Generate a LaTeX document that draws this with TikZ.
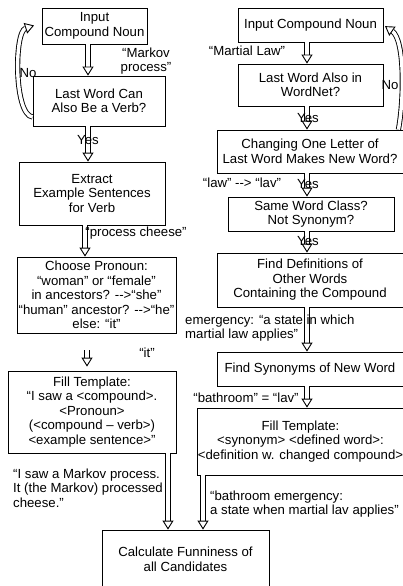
\documentclass[tikz,border=0pt]{standalone}
\usepackage{fontspec}
\newfontfamily\af{Liberation Sans}
\usetikzlibrary{arrows.meta}
\begin{document}
\begin{tikzpicture}[x=1pt,y=-1pt,
  every node/.style={font=\af\fontsize{13.2}{14.5}\selectfont},
  box/.style={draw, line width=0.8pt, align=center, inner sep=0pt},
  lbl/.style={inner sep=0pt, align=center},
  lbll/.style={inner sep=0pt, align=left, anchor=west},
  dbl/.style={draw=black, double=white, double distance=3.4pt, line width=0.9pt, -{Triangle[open,length=9pt,width=11pt,line width=0.9pt,fill=white]}}]
\useasboundingbox (0,0) rectangle (403,586);
% left column
\node[box, minimum width=105pt, minimum height=36pt] (L1) at (94.5,26) {Input\\Compound Noun};
\node[box, minimum width=132pt, minimum height=50pt] (L2) at (99,101) {Last Word Can\\Also Be a Verb?};
\node[box, minimum width=146pt, minimum height=63pt] (L3) at (92,193.5) {Extract\\Example Sentences\\for Verb};
\node[box, minimum width=159pt, minimum height=76pt] (L4) at (96.5,295) {Choose Pronoun:\\“woman” or “female”\\in ancestors? -->“she”\\“human” ancestor? -->“he”\\else: “it”};
\node[box, minimum width=168pt, minimum height=82pt] (L5) at (92,412) {Fill Template:\\“I saw a <compound>.\\<Pronoun>\\(<compound – verb>)\\<example sentence>”};
\node[box, minimum width=167pt, minimum height=59pt] (C) at (185.5,559.5) {Calculate Funniness of\\all Candidates};
% right column
\node[box, minimum width=145pt, minimum height=34pt] (R1) at (310.5,25) {Input Compound Noun};
\node[box, minimum width=145pt, minimum height=42pt] (R2) at (310.5,85) {Last Word Also in\\WordNet?};
\node[box, minimum width=186pt, minimum height=43pt] (R3) at (310,151.5) {Changing One Letter of\\Last Word Makes New Word?};
\node[box, minimum width=166pt, minimum height=34pt] (R4) at (311,214) {Same Word Class?\\Not Synonym?};
\node[box, minimum width=186pt, minimum height=54pt] (R5) at (310,280) {Find Definitions of\\Other Words\\Containing the Compound};
\node[box, minimum width=186pt, minimum height=34pt] (R6) at (310,369) {Find Synonyms of New Word};
\node[box, minimum width=207pt, minimum height=67pt] (R7) at (300.5,441.5) {Fill Template:\\<synonym> <defined word>:\\<definition w. changed compound>};
% left arrows
\draw[dbl] ([xshift=-6.5pt]L1.south) -- ([xshift=-6.5pt]L1.south |- L2.north);
\draw[dbl] ([xshift=-11pt]L2.south) -- ([xshift=-11pt]L2.south |- L3.north);
\draw[dbl] ([xshift=-7pt]L3.south) -- ([xshift=-7pt]L3.south |- L4.north);
\draw[dbl, shorten <=17pt, shorten >=4pt] ([xshift=-9.5pt]L4.south) -- ([xshift=-9.5pt]L4.south |- L5.north);
\draw[dbl] ([xshift=76pt]L5.south) -- ([xshift=-17.5pt]C.north);
\draw[dbl] ([xshift=-97.5pt]R7.south) -- ([xshift=17.5pt]C.north);
\draw[dbl, shorten >=8pt] ([yshift=-16pt]L2.west) .. controls (14,115) and (14,32) .. ([yshift=3pt]L1.west);
% right arrows
\draw[dbl] ([xshift=-3.5pt]R1.south) -- ([xshift=-3.5pt]R1.south |- R2.north);
\draw[dbl] ([xshift=-3.5pt]R2.south) -- ([xshift=-3.5pt]R2.south |- R3.north);
\draw[dbl] ([xshift=-3pt]R3.south) -- ([xshift=-3pt]R3.south |- R4.north);
\draw[dbl] ([xshift=-4pt]R4.south) -- ([xshift=-4pt]R4.south |- R5.north);
\draw[dbl] ([xshift=-3pt]R5.south) -- ([xshift=-3pt]R5.south |- R6.north);
\draw[dbl] ([xshift=-3pt]R6.south) -- ([xshift=-3pt]R6.south |- R7.north);
\draw[dbl, shorten >=2pt] ([xshift=-5pt]R3.north east) .. controls (404,100) and (405,40) .. (R1.east);
% labels
\node[lbl] (m1) at (146,61) {“Markov\\process”};
\node[lbl] (n1) at (28,73) {No};
\node[lbl] (y1) at (88,140) {Yes};
\node[lbl] (pc) at (136,233) {“process cheese”};
\node[lbl] (it) at (147,353) {“it”};
\node[lbll] (ex1) at (13,488) {“I saw a Markov process.\\It (the Markov) processed\\cheese.”};
\node[lbl] (ml) at (247,51) {“Martial Law”};
\node[lbl] (n2) at (390,85) {No};
\node[lbl] (y2) at (308,118) {Yes};
\node[lbl] (ll) at (242,183) {“law” --> “lav”};
\node[lbl] (y3) at (308,184) {Yes};
\node[lbl] (y4) at (308,241) {Yes};
\node[lbll] (em) at (185,328) {emergency: “a state in which\\martial law applies”};
\node[lbl] (bl) at (246,398) {“bathroom” = “lav”};
\node[lbll] (ex2) at (210,504) {“bathroom emergency:\\a state when martial lav applies”};
\end{tikzpicture}
\end{document}
